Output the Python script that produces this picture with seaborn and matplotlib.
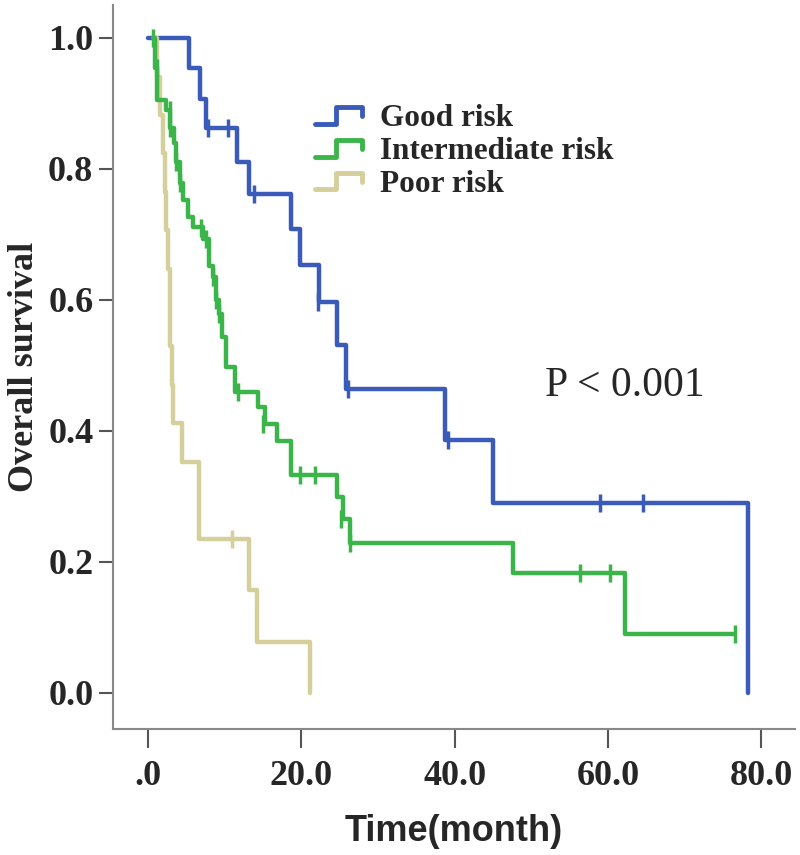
import numpy as np
import pandas as pd
import matplotlib
matplotlib.use("Agg")
import matplotlib.pyplot as plt
import seaborn as sns
from matplotlib.lines import Line2D
from matplotlib.legend_handler import HandlerBase

# Kaplan-Meier steps (time in months, survival after each drop)
good_times = [0, 5.4, 6.8, 7.6, 11.6, 13.1, 18.6, 19.8, 22.3, 24.7, 25.8, 38.7, 45.0, 78.3]
good_surv = [1.0, 0.954, 0.907, 0.863, 0.811, 0.761, 0.708, 0.653, 0.597, 0.531, 0.464, 0.386, 0.289, 0.0]
good_cens_t = [7.8, 10.4, 13.8, 22.2, 26.1, 39.1, 59.0, 64.6]
good_cens_s = [0.863, 0.863, 0.761, 0.597, 0.464, 0.386, 0.289, 0.289]

mid_times = [0.7, 0.9, 1.2, 2.3, 2.8, 3.4, 3.7, 4.2, 4.6, 5.2, 5.9, 7.2, 8.0, 8.5, 8.8, 9.3,
             9.6, 10.1, 11.4, 14.3, 15.3, 16.8, 18.6, 24.7, 25.4, 26.3, 47.6, 62.2, 76.5]
mid_surv = [1.0, 0.954, 0.905, 0.89, 0.862, 0.84, 0.811, 0.778, 0.752, 0.727, 0.711, 0.693,
            0.652, 0.635, 0.599, 0.579, 0.543, 0.497, 0.459, 0.436, 0.411, 0.385, 0.333,
            0.299, 0.265, 0.228, 0.182, 0.089, 0.089]
mid_cens_t = [0.7, 1.1, 2.8, 2.9, 3.7, 4.2, 6.9, 7.6, 8.5, 8.8, 9.3, 11.7, 15.0, 19.8, 21.8,
              25.2, 26.3, 56.3, 60.2, 76.5]
mid_cens_s = [1.0, 0.954, 0.89, 0.862, 0.811, 0.778, 0.709, 0.693, 0.635, 0.599, 0.579, 0.459,
              0.411, 0.333, 0.333, 0.265, 0.228, 0.182, 0.182, 0.089]

poor_times = [1.0, 1.2, 1.5, 1.9, 2.2, 2.4, 2.6, 2.8, 2.9, 3.1, 3.3, 4.4, 6.7, 13.1, 14.2, 21.1]
poor_surv = [1.0, 0.941, 0.882, 0.824, 0.765, 0.706, 0.647, 0.588, 0.53, 0.47, 0.412, 0.353,
             0.235, 0.157, 0.078, 0.0]
poor_cens_t = [10.9]
poor_cens_s = [0.235]

groups = ["Good risk", "Intermediate risk", "Poor risk"]
colors = {"Good risk": "#3a5bb9", "Intermediate risk": "#3bb54a", "Poor risk": "#d4cf9b"}

steps = pd.concat([
    pd.DataFrame({"time": good_times, "surv": good_surv, "group": "Good risk"}),
    pd.DataFrame({"time": mid_times, "surv": mid_surv, "group": "Intermediate risk"}),
    pd.DataFrame({"time": poor_times, "surv": poor_surv, "group": "Poor risk"}),
])
cens = pd.concat([
    pd.DataFrame({"time": good_cens_t, "surv": good_cens_s, "group": "Good risk"}),
    pd.DataFrame({"time": mid_cens_t, "surv": mid_cens_s, "group": "Intermediate risk"}),
    pd.DataFrame({"time": poor_cens_t, "surv": poor_cens_s, "group": "Poor risk"}),
])

sns.set_style("white")
plt.rcParams["font.family"] = ["Liberation Serif", "DejaVu Serif"]

fig = plt.figure(figsize=(8, 8.55), dpi=100)
ax = fig.add_axes([0.141, 0.147, 0.853, 0.847])

# draw order: blue under tan under green
for g, z in [("Good risk", 2), ("Poor risk", 3), ("Intermediate risk", 4)]:
    d = steps[steps.group == g]
    sns.lineplot(data=d, x="time", y="surv", ax=ax, color=colors[g], lw=3.2,
                 drawstyle="steps-post", estimator=None, sort=False, zorder=z)
    c = cens[cens.group == g]
    sns.scatterplot(data=c, x="time", y="surv", ax=ax, color=colors[g], marker="|",
                    s=160, linewidth=2.5, zorder=z)


class HandlerStep(HandlerBase):
    # small step-shaped legend key like the SPSS output
    def create_artists(self, legend, orig_handle, xd, yd, width, height, fontsize, trans):
        xs = [xd, xd + width * 0.45, xd + width * 0.45, xd + width, xd + width]
        ys = [yd + height * 0.1, yd + height * 0.1, yd + height * 0.85,
              yd + height * 0.85, yd + height * 0.45]
        ln = Line2D(xs, ys, color=orig_handle.get_color(), lw=3.5, transform=trans)
        return [ln]


handles = [Line2D([], [], color=colors[g]) for g in groups]
ax.legend(handles, groups, handler_map={Line2D: HandlerStep()},
          loc="upper left", bbox_to_anchor=(0.273, 0.885), frameon=False,
          prop={"family": "Liberation Serif", "weight": "bold", "size": 22.5},
          handlelength=1.5, handletextpad=0.6, labelspacing=0.12, borderpad=0)

ax.text(0.633, 0.475, "P < 0.001", transform=ax.transAxes, fontsize=30,
        family="Liberation Serif", va="center")

ax.set_xlim(-4.6, 84.4)
ax.set_ylim(-0.056, 1.05)
ax.set_xticks([0, 20, 40, 60, 80])
ax.set_xticklabels([".0", "20.0", "40.0", "60.0", "80.0"])
ax.set_yticks([0, 0.2, 0.4, 0.6, 0.8, 1.0])
ax.set_yticklabels(["0.0", "0.2", "0.4", "0.6", "0.8", "1.0"])
for lab in ax.get_xticklabels() + ax.get_yticklabels():
    lab.set_fontweight("bold")
    lab.set_fontsize(26)

ax.tick_params(axis="both", direction="out", color="#555555", width=1.5,
               bottom=True, left=True)
ax.tick_params(axis="x", length=14, pad=8)
ax.tick_params(axis="y", length=10, pad=4)

for s in ["top", "right"]:
    ax.spines[s].set_visible(False)
for s in ["left", "bottom"]:
    ax.spines[s].set_color("#888888")
    ax.spines[s].set_linewidth(1.5)

ax.set_xlabel("Time(month)", family="Liberation Sans", fontweight="bold", fontsize=26, labelpad=15)
ax.set_ylabel("Overall survival", fontweight="bold", fontsize=26, labelpad=5)

fig.savefig("out.png", dpi=100, facecolor="white")
